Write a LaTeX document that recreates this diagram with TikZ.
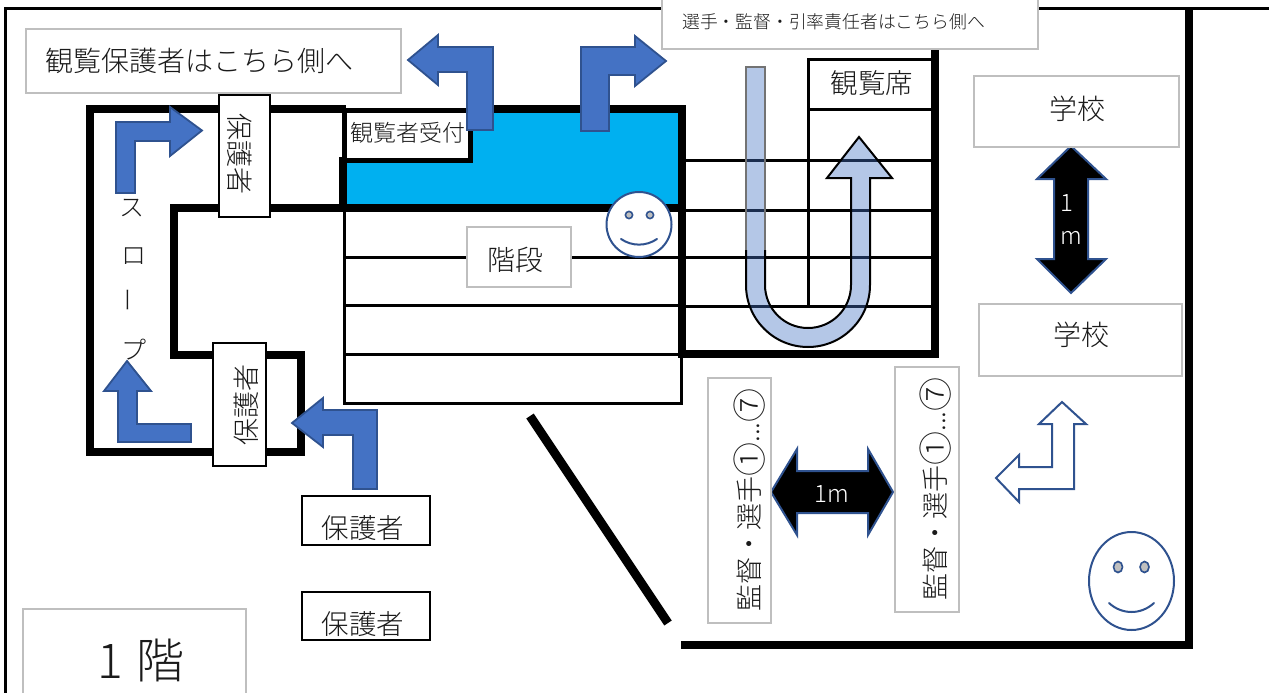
\documentclass[tikz,border=0pt]{standalone}
\usepackage{fontspec}
\setmainfont{Noto Sans CJK JP Light}
\usetikzlibrary{calc}
\definecolor{accent}{HTML}{4472C4}
\definecolor{accentline}{HTML}{2F528F}
\definecolor{hallblue}{HTML}{00B0F0}
\definecolor{boxgray}{HTML}{BFBFBF}
\definecolor{inktext}{HTML}{1A1A1A}
\newcommand{\fsz}[1]{\fontsize{#1}{#1}\selectfont}
\newcommand{\circnum}[1]{\raisebox{-3pt}{\fsz{34}#1}}
\tikzset{
  wall/.style={line width=8pt,draw=black,line join=miter,line cap=butt},
  thinwall/.style={line width=3pt,draw=black,line cap=butt},
  framewall/.style={line width=3.5pt,draw=black},
  bluearrow/.style={fill=accent,draw=accentline,line width=1.8pt,line join=miter},
  blackarrow/.style={fill=black,draw=accentline,line width=2pt,line join=miter},
  outlinearrow/.style={fill=white,draw=accentline,line width=2pt,line join=miter},
  graybox/.style={draw=boxgray,line width=2pt,fill=white},
  blackbox/.style={draw=black,line width=2.5pt,fill=white},
  label/.style={inner sep=0pt,text=inktext,anchor=center},
  whitelabel/.style={inner sep=0pt,text=white,anchor=center},
  face/.style={draw=accentline,line width=2pt,fill=white},
  eye/.style={draw=accentline,line width=1.6pt,fill=boxgray},
  smile/.style={draw=accentline,line width=2pt,line cap=round},
}
\begin{document}
\begin{tikzpicture}[x=1pt,y=-1pt]
\useasboundingbox (0,0) rectangle (1269,693);
% page frame
\draw[framewall] (1269,8.5) -- (5.5,8.5) -- (5.5,693);
% blue hall
\fill[hallblue] (346,109) rectangle (682,208);
% stair thin lines
\foreach \yy in {257,305,354,403} \draw[thinwall] (343,\yy) -- (682,\yy);
\draw[thinwall] (344.5,205) -- (344.5,404.5);
\draw[thinwall] (681.5,354) -- (681.5,404.5);
% seat thin lines
\foreach \yy in {160,210,257,306} \draw[thinwall] (682,\yy) -- (935,\yy);
\draw[thinwall] (808,306) -- (808,60) -- (935,60);
\draw[thinwall] (808,109) -- (935,109);
% reception box
\draw[draw=black,line width=5pt,fill=white] (344,110.5) rectangle (470.5,160.5);
% walls
\draw[wall] (346,109) -- (90,109) -- (90,452) -- (301,452) -- (301,355) -- (174,355) -- (174,208) -- (682,208);
\draw[wall] (468,109) -- (686,109);
\draw[line width=7.5pt,draw=black] (343,157) -- (343,212);
\draw[wall] (682,105) -- (682,354) -- (935,354) -- (935,49);
\draw[wall] (1189,8) -- (1189,645) -- (681,645);
\draw[line width=9pt,draw=black] (530,416) -- (668,623);
% U-turn arrow
\path[fill=accent,fill opacity=.4]
  (746,67) -- (765,67) -- (765,285) arc[start angle=180,end angle=0,radius=43] -- (851,178) -- (827,178) -- (859,137) -- (892,178) -- (870,178) -- (870,285)
  arc[start angle=0,end angle=180,radius=62] -- cycle;
\draw[line width=2pt,draw=black,line join=miter]
  (746,250) -- (746,285) arc[start angle=180,end angle=0,radius=62] -- (870,178) -- (892,178) -- (859,137) -- (827,178) -- (851,178) -- (851,285)
  arc[start angle=0,end angle=180,radius=43] -- (765,250);
\draw[line width=2pt,draw=black!55] (746,250) -- (746,67) -- (765,67) -- (765,250);
% blue bent arrows
\draw[bluearrow] (116,193) -- (116,122) -- (170,122) -- (170,107) -- (202,130.5) -- (170,156) -- (170,141) -- (135,141) -- (135,193) -- cycle;
\draw[bluearrow] (493,130) -- (493,47) -- (438,47) -- (438,35) -- (408,60) -- (438,85) -- (438,72) -- (467,72) -- (467,130) -- cycle;
\draw[bluearrow] (581,131) -- (581,47) -- (635,47) -- (635,36) -- (666,61) -- (635,86) -- (635,75) -- (609,75) -- (609,131) -- cycle;
\draw[bluearrow] (118,442) -- (118,391) -- (104,391) -- (127,361) -- (151,391) -- (137,391) -- (137,424) -- (191,424) -- (191,442) -- cycle;
\draw[bluearrow] (377,489) -- (377,410) -- (323,410) -- (323,398) -- (292,423) -- (323,447) -- (323,435) -- (353,435) -- (353,489) -- cycle;
% double arrows
\draw[blackarrow] (1071,146) -- (1106,179) -- (1088,179) -- (1088,259) -- (1106,259) -- (1071,293) -- (1037,259) -- (1054,259) -- (1054,179) -- (1037,179) -- cycle;
\draw[blackarrow] (771,492) -- (797,449) -- (797,471) -- (868,471) -- (868,449) -- (893,492) -- (868,535) -- (868,513) -- (797,513) -- (797,535) -- cycle;
% outline bent arrow
\draw[outlinearrow] (1062,402) -- (1086,424) -- (1074,424) -- (1074,489) -- (1019,489) -- (1019,502) -- (996,478) -- (1019,455) -- (1019,467) -- (1052,467) -- (1052,424) -- (1039,424) -- cycle;
% boxes
\draw[graybox] (26,29) rectangle (401,93);
\draw[graybox] (662,-3) rectangle (1038,49);
\draw[graybox] (467,227) rectangle (571,287);
\draw[graybox] (974,76) rectangle (1179,147);
\draw[graybox] (979,304) rectangle (1182,376);
\draw[graybox] (708,378) rectangle (771,623);
\draw[graybox] (895,367) rectangle (959,612);
\draw[graybox] (23,609) rectangle (246,700);
\draw[blackbox] (219,95) rectangle (270,217);
\draw[blackbox] (213,343) rectangle (266,466);
\draw[blackbox] (302,496) rectangle (430,545);
\draw[blackbox] (302,592) rectangle (430,640);
% faces
\draw[face] (639,224.5) circle[radius=32.5];
\draw[eye] (629,215) circle[radius=3.6];
\draw[eye] (650,215) circle[radius=3.6];
\draw[smile] (621,239) .. controls (632,246.5) and (646,246.5) .. (657,239);
\draw[face] (1131.5,581) ellipse[x radius=42.5,y radius=49];
\draw[eye] (1118,567) ellipse[x radius=4.5,y radius=5.5];
\draw[eye] (1144.5,567) ellipse[x radius=4.5,y radius=5.5];
\draw[smile] (1109,603) .. controls (1122,615) and (1141,615) .. (1154,603);
% texts
\node[label,font=\fsz{28}] (parentnote) at (199.5,61) {観覧保護者はこちら側へ};
\node[label,font=\fsz{17.8}] (playernote) at (833.5,22) {選手・監督・引率責任者はこちら側へ};
\node[label,font=\fsz{23}] (reception) at (407.5,133) {観覧者受付};
\node[label,font=\fsz{27.5}] (seats) at (872,83) {観覧席};
\node[label,font=\fsz{28}] (stairs) at (515,260) {階段};
\node[label,font=\fsz{28}] (school1) at (1077,109) {学校};
\node[label,font=\fsz{28}] (school2) at (1081,335) {学校};
\node[label,font=\fsz{27},rotate=-90] (parentgate1) at (240,154) {保護者};
\node[label,font=\fsz{27},rotate=90] (parentgate2) at (246,405) {保護者};
\node[label,font=\fsz{27.5}] (parent1) at (363,528) {保護者};
\node[label,font=\fsz{27.5}] (parent2) at (363,624) {保護者};
\node[label,font=\fsz{27},rotate=90] (coach1) at (750,500) {監督・選手\circnum{①}...\circnum{⑦}};
\node[label,font=\fsz{27},rotate=90] (coach2) at (936,489) {監督・選手\circnum{①}...\circnum{⑦}};
\node[whitelabel,font=\fsz{24}] (onem) at (832,494) {1m};
\node[whitelabel,font=\fsz{24}] (one) at (1067,203) {1};
\node[whitelabel,font=\fsz{24}] (emm) at (1071,238) {m};
\node[label,font=\fsz{48},anchor=west] (floor) at (97,660) {1\hspace{3pt} 階};
\node[label,font=\fsz{25}] (slope1) at (132,208) {ス};
\node[label,font=\fsz{25}] (slope2) at (134,256) {ロ};
\node[label,font=\fsz{25},rotate=90] (slope3) at (132,300) {ー};
\node[label,font=\fsz{25}] (slope4) at (134,350) {プ};
\end{tikzpicture}
\end{document}
